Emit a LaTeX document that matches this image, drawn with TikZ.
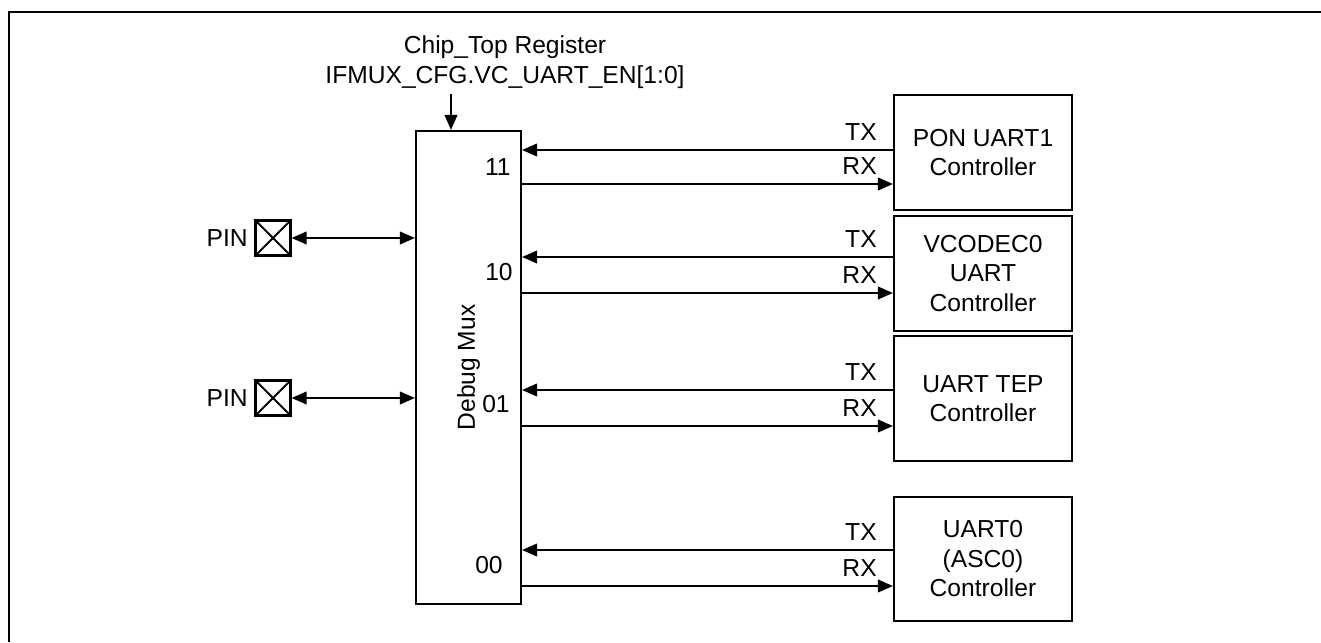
\documentclass[tikz,border=0pt]{standalone}
\usepackage{fontspec}
\setmainfont{Liberation Sans}
\usepackage{xcolor}
\definecolor{diagLine}{HTML}{000000}
\usetikzlibrary{arrows.meta}

\begin{document}
\begin{tikzpicture}[x=0.02cm, y=-0.02cm, font=\fontsize{14}{16.8}\selectfont,
  box/.style={draw=diagLine, line width=1.2pt, rectangle, inner sep=0pt, align=center},
  sig/.style={draw=diagLine, line width=1.2pt, -{Triangle[length=0.3cm, width=0.25cm]}},
  bidir/.style={draw=diagLine, line width=1.2pt, {Triangle[length=0.3cm, width=0.25cm]}-{Triangle[length=0.3cm, width=0.25cm]}}]
  \useasboundingbox (0,0) rectangle (1321,642);
  \draw[diagLine, line width=1.2pt] (1321,12) -- (9,12) -- (9,642);

  % mux and its select register
  \node[box, minimum width=2.1cm, minimum height=9.46cm] (mux) at (468.5,367.5) {};
  \node[rotate=90] (muxlbl) at (mux.center) {Debug Mux};
  \node[align=center] (reg) at (505,62) {Chip\_Top Register\\IFMUX\_CFG.VC\_UART\_EN[1:0]};
  \draw[sig] (reg.south -| 451,0) -- (mux.north -| 451,0);

  % controllers
  \node[box, minimum width=3.56cm, minimum height=2.3cm] (pon) at (983,152.5) {PON UART1\\Controller};
  \node[box, minimum width=3.56cm, minimum height=2.3cm] (vcodec) at (983,273.5) {VCODEC0\\UART\\Controller};
  \node[box, minimum width=3.56cm, minimum height=2.5cm] (tep) at (983,398.5) {UART TEP\\Controller};
  \node[box, minimum width=3.56cm, minimum height=2.48cm] (uart0) at (983,559) {UART0\\(ASC0)\\Controller};

  \foreach \ctl/\tx/\rx/\sel/\selx/\sely in {pon/150/184/11/511/175, vcodec/257/293/10/513/280, tep/390/426/01/510/412, uart0/550/586/00/503/573} {
    \draw[sig] (\ctl.west |- 0,\tx) -- (mux.east |- 0,\tx);
    \draw[sig] (mux.east |- 0,\rx) -- (\ctl.west |- 0,\rx);
    \node[anchor=base east, inner sep=0pt] (tx\ctl) at (877,\tx-9.5) {TX};
    \node[anchor=base east, inner sep=0pt] (rx\ctl) at (877,\rx-9.5) {RX};
    \node[anchor=base east, inner sep=0pt] (sel\ctl) at (\selx,\sely) {\sel};
  }

  % pins
  \foreach \p/\y in {1/238, 2/398} {
    \node[box, minimum size=0.7cm] (pin\p) at (273,\y) {};
    \draw[diagLine, line width=1.2pt] (pin\p.north west) -- (pin\p.south east) (pin\p.north east) -- (pin\p.south west);
    \node[anchor=east, inner sep=0pt] (pintxt\p) at (248,\y) {PIN};
    \draw[bidir] (pin\p.east) -- (mux.west |- pin\p.east);
  }
\end{tikzpicture}
\end{document}
